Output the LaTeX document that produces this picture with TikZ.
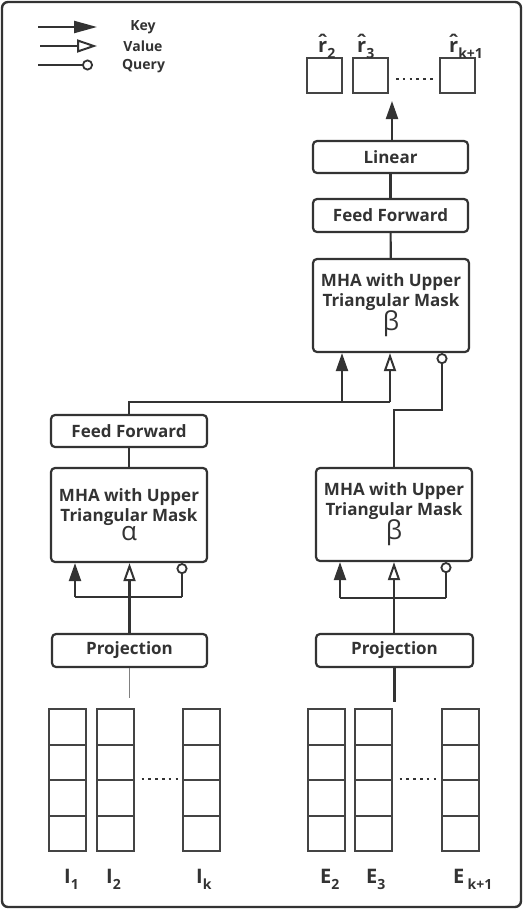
\documentclass[tikz,border=0pt]{standalone}
\usepackage{fontspec}
\setmainfont{Open Sans}
\usetikzlibrary{arrows.meta}
\definecolor{ln}{HTML}{333333}
\definecolor{cl}{HTML}{444444}
\newcommand\mysub[1]{\raisebox{-0.3em}{\fontsize{14}{14}\selectfont #1}}
\newcommand\myrhat{\rlap{\makebox[0.45em][c]{\raisebox{2.5pt}{ˆ}}}r}
\begin{document}
\begin{tikzpicture}[x=1pt,y=-1pt,
  box/.style={draw=ln,line width=2.2pt,rounded corners=4pt,align=center,inner sep=0pt,
    text=ln,font=\fontsize{17}{20}\selectfont\bfseries},
  conn/.style={draw=ln,line width=2.2pt},
  keyarr/.style={conn,-{Triangle[length=18pt,width=12pt]}},
  valarr/.style={conn,-{Triangle[open,length=18pt,width=12pt,line width=2pt]}},
  qryarr/.style={conn,-{Circle[open,length=11pt,line width=1.8pt]}},
  cell/.style={draw=cl,line width=2pt,minimum width=37pt,minimum height=35.5pt,inner sep=0pt},
  sq/.style={draw=cl,line width=2pt,minimum width=35pt,minimum height=35pt,inner sep=0pt},
  dots/.style={draw=ln,line width=2.6pt,dash pattern=on 2.6pt off 4.2pt},
  lbl/.style={inner sep=0pt,anchor=base west,text=ln,font=\fontsize{20}{20}\selectfont\bfseries},
  leg/.style={inner sep=0pt,text=ln,font=\fontsize{14}{14}\selectfont\bfseries}
]
\useasboundingbox (0,0) rectangle (524,910);
\draw[ln,line width=2.4pt,rounded corners=6pt] (2,2) rectangle (521,907);

% legend
\coordinate (k1) at (38,27); \coordinate (k2) at (97,27);
\coordinate (v1) at (40,46); \coordinate (v2) at (97,46);
\coordinate (q1) at (38,65); \coordinate (q2) at (93,65);
\draw[keyarr,-{Triangle[length=23pt,width=12pt]}] (k1) -- (k2);
\draw[valarr,-{Triangle[open,length=20pt,width=13pt,line width=2pt]}] (v1) -- (v2);
\draw[qryarr,line width=1.4pt] (q1) -- (q2);
\node[leg] (tk) at (143,27) {Key};
\node[leg] (tv) at (143,46) {Value};
\node[leg] (tq) at (143.5,66) {Query};

% outputs
\node[sq] (r2) at (324.5,75.5) {};
\node[sq] (r3) at (370.5,75.5) {};
\node[sq] (rk) at (457,75.5) {};
\draw[dots,shorten <=7pt,shorten >=2pt] ([yshift=-3.5pt]r3.east) -- ([yshift=-3.5pt]rk.west);
\node[lbl] (lr2) at (318,52) {\myrhat\mysub{2}};
\node[lbl] (lr3) at (357,52) {\myrhat\mysub{3}};
\node[lbl] (lrk) at (449,52) {\myrhat\mysub{k+1}};

% right upper stack
\node[box,minimum width=155pt,minimum height=32pt] (lin) at (390.5,157) {Linear};
\node[box,minimum width=155pt,minimum height=33pt] (ffR) at (390.5,215.5) {Feed Forward};
\node[box,minimum width=156pt,minimum height=93pt] (mhaR1) at (391,305.5)
  {MHA with Upper\\Triangular Mask\\[-1pt]{\fontsize{26}{24}\selectfont\textmd{β}}};
\coordinate (otip) at (392,101);
\draw[keyarr] (lin.north -| otip) -- (otip);
\draw[conn] (ffR) -- (lin);
\draw[conn] (mhaR1) -- (ffR);

% left stack
\node[box,minimum width=156pt,minimum height=32pt] (ffL) at (129,431) {Feed Forward};
\node[box,minimum width=156pt,minimum height=94pt] (mhaL) at (129,515)
  {MHA with Upper\\Triangular Mask\\[-1pt]{\fontsize{26}{24}\selectfont\textmd{α}}};
\draw[conn] (mhaL) -- (ffL);
\node[box,minimum width=155pt,minimum height=33pt] (projL) at (129.5,650.5) {Projection};

% right lower stack
\node[box,minimum width=156pt,minimum height=93pt] (mhaR2) at (394,514.5)
  {MHA with Upper\\Triangular Mask\\[-1pt]{\fontsize{26}{24}\selectfont\textmd{β}}};
\node[box,minimum width=157pt,minimum height=33pt] (projR) at (394.5,650.5) {Projection};

% top merge
\coordinate (jT) at (390,402);
\coordinate (kT) at (342,402);
\coordinate (qT) at (442,410);
\draw[conn] (ffL.north) |- (jT);
\draw[keyarr] (kT) -- (kT |- mhaR1.south);
\draw[valarr] (jT) -- (jT |- mhaR1.south);
\draw[qryarr] (mhaR2.north) |- (qT) -- (qT |- mhaR1.south);

% left inputs to MHA
\coordinate (jL) at (129.5,597);
\coordinate (kL) at (75,597);
\coordinate (qL) at (182,597);
\draw[conn] (projL.north) -- (jL);
\draw[conn] (kL) -- (qL);
\draw[keyarr] (kL) -- (kL |- mhaL.south);
\draw[valarr] (jL) -- (jL |- mhaL.south);
\draw[qryarr] (qL) -- (qL |- mhaL.south);

% right inputs to MHA
\coordinate (jR) at (394,598);
\coordinate (kR) at (340,598);
\coordinate (qR) at (446,598);
\draw[conn] (projR.north -| jR) -- (jR);
\draw[conn] (kR) -- (qR);
\draw[keyarr] (kR) -- (kR |- mhaR2.south);
\draw[valarr] (jR) -- (jR |- mhaR2.south);
\draw[qryarr] (qR) -- (qR |- mhaR2.south);

% columns
\foreach \n/\x in {L1/67.5,L2/115,Lk/201.5,E2/326,E3/373,Ek/460}{
  \foreach \i in {1,...,4}{
    \node[cell] (\n-\i) at (\x,{726.75+35.5*(\i-1)}) {};
  }
}
\draw[dots,shorten <=7pt,shorten >=4pt] (L2-3.north east) -- (Lk-3.north west);
\draw[dots,shorten <=7pt,shorten >=4pt] (E3-3.north east) -- (Ek-3.north west);

% stubs from projections
\coordinate (sL) at (129.5,698);
\coordinate (sR) at (394.5,702);
\draw[draw=gray,line width=1.4pt] (projL.south) -- (sL);
\draw[conn] (projR.south) -- (sR);

% labels
\node[lbl] (tI1) at (64,883) {I\mysub{1}};
\node[lbl] (tI2) at (106,883) {I\mysub{2}};
\node[lbl] (tIk) at (196,883) {I\mysub{k}};
\node[lbl] (tE2) at (320,883) {E\mysub{2}};
\node[lbl] (tE3) at (366,883) {E\mysub{3}};
\node[lbl] (tEk) at (453,883) {E\,\mysub{k+1}};
\end{tikzpicture}
\end{document}
